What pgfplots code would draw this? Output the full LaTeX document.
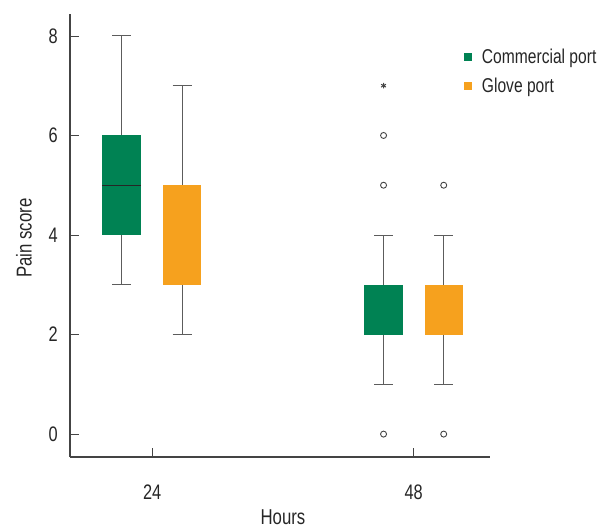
\documentclass[border=0pt]{standalone}
\usepackage{fontspec}
\setmainfont{Liberation Sans}[FakeStretch=0.78]
\usepackage{pgfplots}
\pgfplotsset{compat=1.18}
\usepgfplotslibrary{statistics}
\definecolor{cgreen}{HTML}{008253}
\definecolor{corange}{HTML}{F6A11E}
\definecolor{axgray}{HTML}{444444}
\definecolor{wgray}{HTML}{5C5C5C}
\begin{document}
\begin{tikzpicture}
\useasboundingbox (-70pt,-73pt) rectangle (528pt,457pt);
\begin{axis}[
  at={(0pt,0pt)}, anchor=south west,
  scale only axis, width=420pt, height=443pt,
  xmin=-0.314, xmax=1.292, ymin=-0.46, ymax=8.44,
  axis x line=bottom, axis y line=left,
  axis line style={-, axgray, line width=1.1pt},
  xtick={0,1}, xticklabels={24,48},
  ytick={0,2,4,6,8},
  tick align=inside,
  major tick length=9pt,
  tick style={axgray, line width=0.8pt},
  /pgf/number format/assume math mode=true,
  tick label style={font=\fontsize{21}{24}\selectfont, text=black!85},
  xticklabel style={anchor=center, inner sep=0pt, yshift=-35pt},
  yticklabel style={anchor=east, inner sep=0pt, xshift=-12pt},
  xlabel={Hours}, ylabel={Pain score},
  every axis x label/.style={at={(axis description cs:0.507,-0.137)}, anchor=center, font=\fontsize{21.5}{24}\selectfont, text=black!85},
  every axis y label/.style={at={(axis description cs:-0.1095,0.494)}, rotate=90, anchor=center, font=\fontsize{21.5}{24}\selectfont, text=black!85},
  legend style={at={(rel axis cs:0.938,0.9266)}, anchor=north west, draw=none, fill=none,
    inner sep=0pt, outer sep=0pt, row sep=9.3pt, column sep=8pt,
    font=\fontsize{20}{24}\selectfont, text=black!85,
    nodes={inner sep=2pt}},
  legend cell align=left,
  legend image code/.code={\fill[#1] (0pt,-4pt) rectangle (8pt,4pt);},
  boxplot/draw direction=y,
]
\addlegendimage{fill=cgreen, draw=none}
\addlegendentry{Commercial port}
\addlegendimage{fill=corange, draw=none}
\addlegendentry{Glove port}

% 24 h, commercial
\addplot[wgray, line width=0.9pt, forget plot, boxplot prepared={draw position=-0.117,
  lower whisker=3, lower quartile=4, median=5, upper quartile=6, upper whisker=8,
  box extend=0.1465, whisker extend=0.0726,
  every box/.style={draw=none, fill=cgreen},
  every median/.style={draw=black!85, line width=1.2pt}}] coordinates {};
% 24 h, glove
\addplot[wgray, line width=0.9pt, forget plot, boxplot prepared={draw position=0.115,
  lower whisker=2, lower quartile=3, median=5, upper quartile=5, upper whisker=7,
  box extend=0.1465, whisker extend=0.0726,
  every box/.style={draw=none, fill=corange},
  every median/.style={draw=none}}] coordinates {};
% 48 h, commercial
\addplot[wgray, line width=0.9pt, forget plot, boxplot prepared={draw position=0.885,
  lower whisker=1, lower quartile=2, median=2, upper quartile=3, upper whisker=4,
  box extend=0.1465, whisker extend=0.0726,
  every box/.style={draw=none, fill=cgreen},
  every median/.style={draw=none}}] coordinates {};
% 48 h, glove
\addplot[wgray, line width=0.9pt, forget plot, boxplot prepared={draw position=1.115,
  lower whisker=1, lower quartile=2, median=2, upper quartile=3, upper whisker=4,
  box extend=0.1465, whisker extend=0.0726,
  every box/.style={draw=none, fill=corange},
  every median/.style={draw=none}}] coordinates {};

% outliers
\addplot[only marks, mark=o, mark size=3pt, axgray, line width=0.9pt, forget plot]
  coordinates {(0.885,0) (0.885,5) (0.885,6) (1.115,0) (1.115,5)};
% extreme value
\addplot[only marks, mark=asterisk, mark size=2.8pt, axgray, line width=1pt, forget plot]
  coordinates {(0.885,7)};
\end{axis}
\end{tikzpicture}
\end{document}
